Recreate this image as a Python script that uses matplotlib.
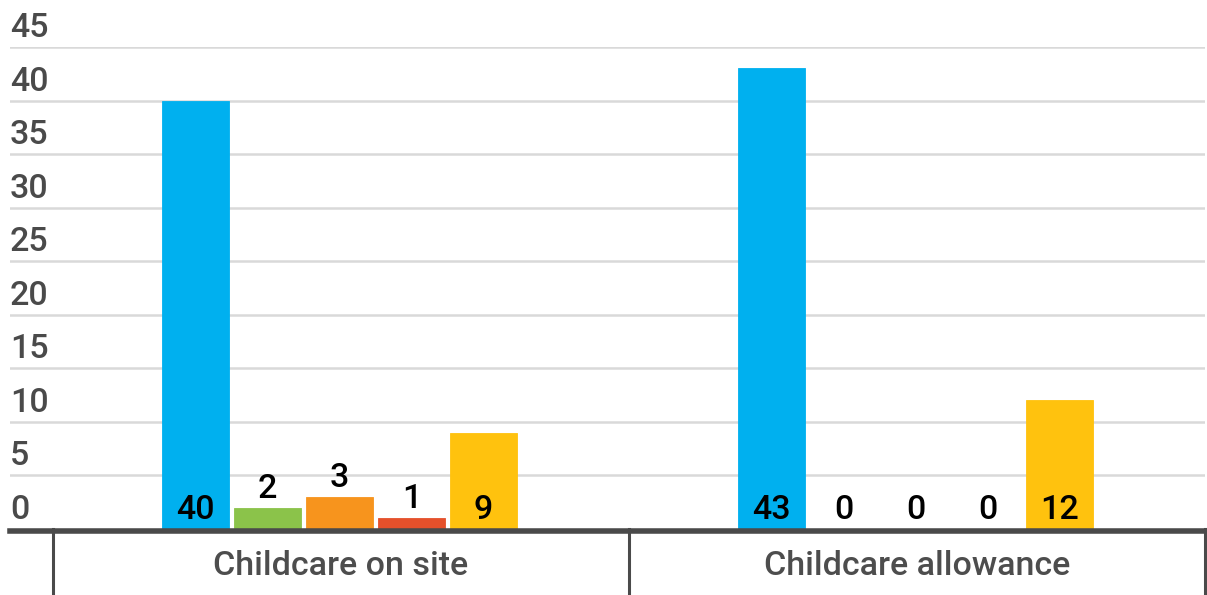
import matplotlib
matplotlib.use("Agg")
import matplotlib.pyplot as plt
import numpy as np

plt.rcParams['font.family'] = ['Roboto', 'DejaVu Sans']

categories = ["Childcare on site", "Childcare allowance"]
series_names = ["S1", "S2", "S3", "S4", "S5"]
values = [
    [40, 43],
    [2, 0],
    [3, 0],
    [1, 0],
    [9, 12],
]
colors = ["#00b0ef", "#8bc34a", "#f7941d", "#e5502b", "#ffc20e"]
yticks = [0, 5, 10, 15, 20, 25, 30, 35, 40, 45]

W, H = 1207, 595
fig = plt.figure(figsize=(W / 100, H / 100), dpi=100)
left_px, right_px = 10, 1205
bottom_px, top_px = 529, 47
ax = fig.add_axes([left_px / W, (H - bottom_px) / H, (right_px - left_px) / W, (bottom_px - top_px) / H])

unit = 576.0
xmin = -0.5 - (53 - left_px) / unit
ax.set_xlim(xmin, 1.5)
ax.set_ylim(0, 45)
px_per_val = (bottom_px - top_px) / 45.0

pitch = 72 / unit
width = 67 / unit
x = np.arange(len(categories))
FS = 24.5
for i, (name, vals, c) in enumerate(zip(series_names, values, colors)):
    pos = x + (i - 2) * pitch - 1.5 / unit
    ax.bar(pos, vals, width=width, color=c, edgecolor=c, linewidth=0.6, zorder=3)
    for xb, v in zip(pos, vals):
        base = 0 if v >= 4 else v
        ax.annotate(str(v), (xb, base), xytext=(0, 7.2), textcoords="offset points",
                    ha="center", va="baseline", fontsize=FS, fontweight="medium",
                    color="black", zorder=5)

for s in ax.spines.values():
    s.set_visible(False)
ax.set_xticks([])
ax.set_yticks([])

for t in yticks:
    if t > 0:
        ax.axhline(t, color="#d9d9d9", linewidth=1.8, zorder=1)
    ax.annotate(str(t), (0, t), xycoords=("axes fraction", "data"), xytext=(0, 7.2),
                textcoords="offset points", ha="left", va="baseline", fontsize=FS,
                fontweight="medium", color="#4a4a4a", annotation_clip=False)

# baseline axis
ax.axhline(-2.2 / px_per_val, color="#4a4a4a", linewidth=4.0, zorder=4, clip_on=False)

# category separators and labels below axis
for b in [-0.5, 0.5, 1.5]:
    ax.plot([b, b], [0, -6.2], color="#4a4a4a", linewidth=2.2, clip_on=False, zorder=4)
for xi, cat in zip(x, categories):
    ax.annotate(cat, (xi, 0), xytext=(0, -33.1), textcoords="offset points",
                ha="center", va="baseline", fontsize=FS, fontweight="medium",
                color="#4d4d4d", annotation_clip=False)

fig.savefig("out.png", dpi=100)
